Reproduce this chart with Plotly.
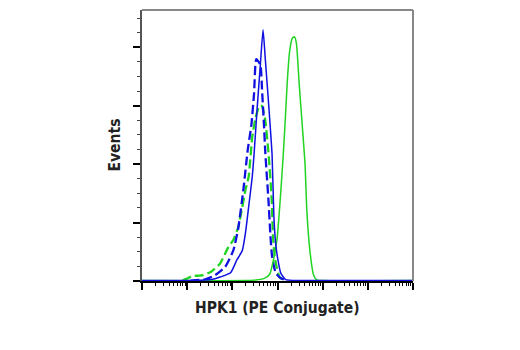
import plotly.graph_objects as go

# x positions as log10(intensity); y values as event counts
blue_solid_log10 = [0.0, 0.8, 1.29, 1.62, 1.73, 1.96, 2.10, 2.22, 2.29, 2.36, 2.44, 2.48, 2.55, 2.62, 2.68,
                    2.73, 2.81, 2.88, 2.92, 2.96, 3.01, 3.07, 3.18, 3.51, 4.5, 6.0]
blue_solid_counts = [0.4, 0.4, 0.6, 2, 3.4, 7, 18, 26, 41, 63, 89, 108, 148, 185, 215,
                     190, 148, 108, 55, 32, 18, 7, 1.2, 0.5, 0.4, 0.4]

blue_dash_log10 = [1.07, 1.40, 1.62, 1.84, 2.02, 2.13, 2.25, 2.34, 2.42, 2.48, 2.53, 2.62, 2.66, 2.70,
                   2.73, 2.80, 2.84, 2.88, 2.96, 3.07, 3.2]
blue_dash_counts = [0.3, 1.5, 5, 12, 26, 45, 80, 112, 133, 160, 190, 185, 162, 134,
                    110, 69, 41, 21, 7, 2.5, 0.5]

green_dash_log10 = [0.9, 1.0, 1.1, 1.35, 1.53, 1.73, 1.91, 2.02, 2.13, 2.22, 2.29, 2.36, 2.44, 2.51,
                    2.6, 2.65, 2.72, 2.8, 2.87, 2.90, 2.94, 3.05, 3.2]
green_dash_counts = [0.5, 2, 4, 5, 8, 15, 29, 35, 46, 63, 78, 89, 123, 139,
                     150, 150, 140, 110, 71, 39, 20, 3, 0.5]

green_solid_log10 = [0.0, 2.3, 2.56, 2.72, 2.83, 2.92, 2.99, 3.04, 3.09, 3.14, 3.18, 3.22, 3.27, 3.33,
                     3.38, 3.42, 3.48, 3.56, 3.61, 3.65, 3.72, 3.80, 3.87, 4.0, 6.0]
green_solid_counts = [0.4, 0.4, 1, 2.5, 6, 20, 36, 59, 86, 116, 144, 173, 197, 208,
                      209, 203, 169, 127, 100, 60, 25, 5, 1, 0.4, 0.4]

x_title = "HPK1 (PE Conjugate)"
y_title = "Events"

BLUE = "#1010e0"
GREEN = "#22d422"
FONT = "DejaVu Sans Condensed, Liberation Sans Narrow, Liberation Sans"

def tolin(v):
    return [10 ** a for a in v]

fig = go.Figure()
fig.add_trace(go.Scatter(x=tolin(green_dash_log10), y=green_dash_counts, mode="lines",
                         line=dict(color=GREEN, width=2.3, dash="9px,4px", shape="spline", smoothing=0.5)))
fig.add_trace(go.Scatter(x=tolin(blue_dash_log10), y=blue_dash_counts, mode="lines",
                         line=dict(color=BLUE, width=2.3, dash="9px,4px", shape="spline", smoothing=0.5)))
fig.add_trace(go.Scatter(x=tolin(green_solid_log10), y=green_solid_counts, mode="lines",
                         line=dict(color=GREEN, width=1.5, shape="spline", smoothing=0.5)))
fig.add_trace(go.Scatter(x=tolin(blue_solid_log10), y=blue_solid_counts, mode="lines",
                         line=dict(color=BLUE, width=1.5, shape="spline", smoothing=0.5)))

fig.update_layout(
    width=520, height=350,
    margin=dict(l=142, r=107, t=10, b=69),
    paper_bgcolor="white", plot_bgcolor="white",
    showlegend=False,
    xaxis=dict(type="log", range=[0, 6], dtick=1, showgrid=False, zeroline=False,
               showticklabels=False, ticks="outside", ticklen=7, tickwidth=1.5, tickcolor="black",
               showline=True, linecolor="black", linewidth=2,
               minor=dict(ticks="outside", ticklen=3, tickwidth=1, tickcolor="black", dtick="D1", showgrid=False)),
    yaxis=dict(range=[0, 232], dtick=50, showgrid=False, zeroline=False,
               showticklabels=False, ticks="outside", ticklen=7, tickwidth=1.5, tickcolor="black",
               showline=True, linecolor="#555555", linewidth=1.5,
               minor=dict(ticks="outside", ticklen=3, tickwidth=1, tickcolor="#444444", dtick=12.5, showgrid=False)),
    shapes=[
        dict(type="line", xref="paper", yref="paper", x0=0, x1=1, y0=1, y1=1,
             line=dict(color="#888888", width=2)),
        dict(type="line", xref="paper", yref="paper", x0=1, x1=1, y0=0, y1=1,
             line=dict(color="#888888", width=2)),
    ],
    annotations=[
        dict(text="<b>%s</b>" % x_title, xref="paper", yref="paper", x=0.5, y=0,
             xanchor="center", yanchor="middle", yshift=-27, showarrow=False,
             font=dict(family=FONT, size=15.5, color="#222222")),
        dict(text="<b>%s</b>" % y_title, xref="paper", yref="paper", x=0, y=0.5,
             xanchor="center", yanchor="middle", xshift=-28, textangle=-90, showarrow=False,
             font=dict(family=FONT, size=15.5, color="#222222")),
    ],
)

fig.write_html("out.html")
